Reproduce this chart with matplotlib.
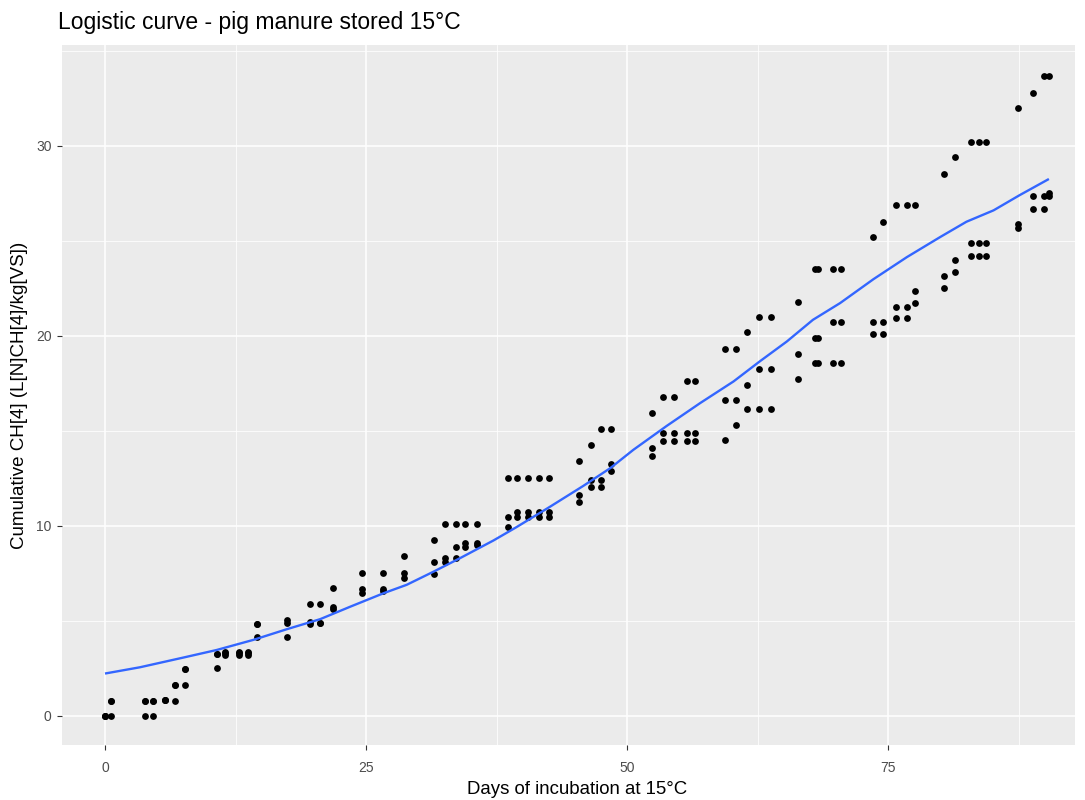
import matplotlib
matplotlib.use("Agg")
from matplotlib import pyplot as plt
from matplotlib.ticker import MultipleLocator

# sampling days and the three replicate readings of cumulative CH4
sample_days = [0.0, 0.6, 3.8, 4.6, 5.75, 6.7, 7.7, 10.75, 11.5, 12.8,
               13.7, 14.6, 17.4, 19.6, 20.6, 21.8, 24.6, 26.6, 28.6, 31.5,
               32.6, 33.6, 34.5, 35.6, 38.6, 39.5, 40.5, 41.6, 42.5, 45.4,
               46.5, 47.5, 48.5, 52.4, 53.4, 54.5, 55.7, 56.5, 59.4, 60.4,
               61.5, 62.6, 63.8, 66.4, 68.0, 68.3, 69.7, 70.5, 73.6, 74.5,
               75.8, 76.8, 77.6, 80.4, 81.4, 82.9, 83.7, 84.4, 87.45, 88.9,
               89.9, 90.4]

rep_a = [0.0, 0.0, 0.0, 0.0, 0.85, 0.8, 1.65, 2.5, 3.2, 3.2,
         3.2, 4.17, 4.16, 4.85, 4.9, 5.6, 6.46, 6.55, 7.28, 7.47,
         8.12, 8.3, 8.91, 9.0, 9.93, 10.46, 10.46, 10.46, 10.46, 11.28,
         12.07, 12.07, 12.9, 13.68, 14.49, 14.49, 14.49, 14.49, 14.5, 15.33,
         16.14, 16.14, 16.14, 17.75, 18.58, 18.58, 18.58, 18.58, 20.12, 20.12,
         20.93, 20.93, 21.75, 22.54, 23.37, 24.2, 24.2, 24.2, 25.67, 26.68,
         26.68, 27.37]

rep_b = [0.0, 0.8, 0.8, 0.8, 0.85, 1.65, 2.45, 3.25, 3.35, 3.35,
         3.35, 4.85, 4.88, 4.95, 4.9, 5.75, 6.67, 6.67, 7.51, 8.09,
         8.3, 8.91, 9.12, 9.1, 10.46, 10.72, 10.72, 10.72, 10.72, 11.63,
         12.42, 12.42, 13.25, 14.09, 14.91, 14.91, 14.91, 14.91, 16.6, 16.6,
         17.42, 18.23, 18.23, 19.05, 19.86, 19.86, 20.74, 20.74, 20.74, 20.74,
         21.54, 21.54, 22.35, 23.16, 23.98, 24.86, 24.86, 24.86, 25.88, 27.37,
         27.37, 27.5]

rep_c = [0.0, 0.8, 0.8, 0.8, 0.85, 1.65, 2.45, 3.25, 3.3, 3.3,
         3.3, 4.85, 5.05, 5.88, 5.88, 6.72, 7.54, 7.54, 8.42, 9.25,
         10.1, 10.1, 10.1, 10.1, 12.54, 12.54, 12.54, 12.54, 12.54, 13.42,
         14.25, 15.12, 15.12, 15.93, 16.8, 16.8, 17.63, 17.63, 19.3, 19.3,
         20.2, 21.0, 21.0, 21.8, 23.51, 23.51, 23.51, 23.51, 25.2, 26.0,
         26.9, 26.9, 26.9, 28.5, 29.4, 30.2, 30.2, 30.2, 31.96, 32.77,
         33.65, 33.65]

# smoothed fit through all replicates
fit_days = [0.0, 3.35, 7.5, 10.7, 14.2, 17.4, 20.6, 23.5, 26.7, 28.9,
            31.5, 34.0, 37.2, 39.4, 42.6, 45.8, 48.4, 50.6, 53.8, 57.0,
            60.2, 62.7, 65.3, 67.8, 70.4, 73.6, 76.8, 80.0, 82.5, 85.1,
            87.6, 90.4]
fit_ch4 = [2.23, 2.56, 3.07, 3.47, 4.0, 4.56, 5.09, 5.75, 6.46, 6.9,
           7.6, 8.3, 9.23, 9.93, 11.0, 12.1, 13.04, 14.0, 15.26, 16.46,
           17.6, 18.65, 19.7, 20.84, 21.72, 22.98, 24.14, 25.2, 26.0, 26.6,
           27.4, 28.25]

plt.rcParams['font.family'] = ['Liberation Sans', 'DejaVu Sans']

fig = plt.figure(figsize=(10.85, 8.0), dpi=100)
ax = fig.add_axes([62 / 1085, 1 - 745 / 800, (1075 - 62) / 1085, 700 / 800])
ax.set_facecolor('#EBEBEB')

for reps in (rep_a, rep_b, rep_c):
    ax.scatter(sample_days, reps, s=24, color='black', linewidths=0, zorder=3)

ax.plot(fit_days, fit_ch4, color='#3366FF', lw=1.7, zorder=4,
        solid_joinstyle='round', solid_capstyle='butt')

ax.set_xlim(-4.12, 92.9)
ax.set_ylim(-1.53, 35.3)
ax.xaxis.set_major_locator(MultipleLocator(25))
ax.xaxis.set_minor_locator(MultipleLocator(12.5))
ax.yaxis.set_major_locator(MultipleLocator(10))
ax.yaxis.set_minor_locator(MultipleLocator(5))
ax.grid(which='major', color='white', lw=1.1, zorder=0)
ax.grid(which='minor', color='white', lw=0.55, zorder=0)
ax.set_axisbelow(True)
for s in ax.spines.values():
    s.set_visible(False)
ax.tick_params(which='major', length=3.5, width=0.8, color='#333333',
               labelcolor='#4D4D4D', labelsize=10, pad=4)
ax.tick_params(axis='x', which='major', pad=8)
ax.tick_params(which='minor', length=0)

ax.set_xlabel('Days of incubation at 15°C', fontsize=13.4, color='black',
              labelpad=4)
ax.xaxis.label.set_x(0.5084)
ax.set_ylabel('Cumulative CH[4] (L[N]CH[4]/kg[VS])', fontsize=13.5,
              color='black', labelpad=6)
fig.text(58 / 1085, 1 - 23 / 800, 'Logistic curve - pig manure stored 15°C',
         fontsize=16.5, ha='left', va='center', color='black')

fig.savefig('out.png', dpi=100, facecolor='white')
